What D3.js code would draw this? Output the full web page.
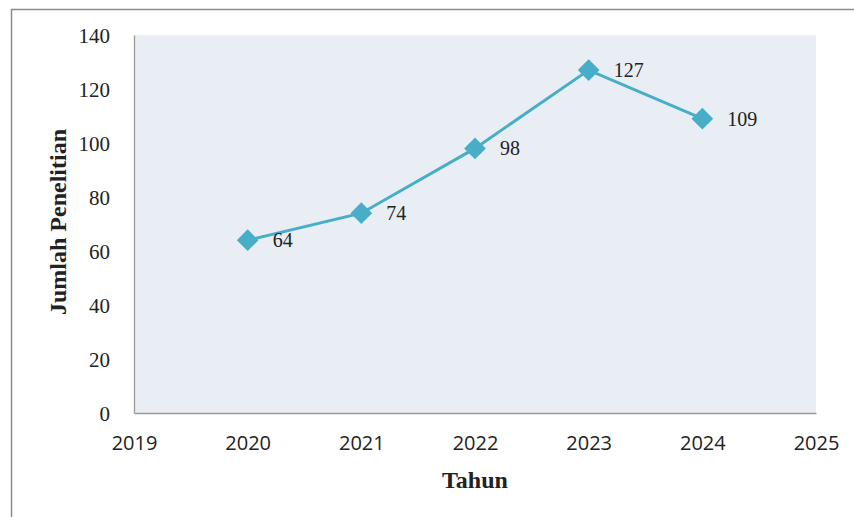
<!DOCTYPE html>
<html><head><meta charset="utf-8">
<script src="https://cdn.jsdelivr.net/npm/d3@7"></script>
<style>html,body{margin:0;padding:0;background:#fff;}svg{display:block;}</style>
</head><body>
<script>
const years = [2020, 2021, 2022, 2023, 2024];
const values = [64, 74, 98, 127, 109];
const xTicks = [2019, 2020, 2021, 2022, 2023, 2024, 2025];
const yTicks = [0, 20, 40, 60, 80, 100, 120, 140];
const xTitle = "Tahun";
const yTitle = "Jumlah Penelitian";

const W = 854, H = 517;
const svg = d3.select("body").append("svg").attr("width", W).attr("height", H);

// outer frame
svg.append("rect").attr("x", 11.5).attr("y", 9.5).attr("width", 900).attr("height", 600)
  .attr("fill", "none").attr("stroke", "#8a8a8a").attr("stroke-width", 1.5);

const L = 134, R = 816, T = 35, B = 413;
const x = d3.scaleLinear().domain([2019, 2025]).range([L, R]);
const y = d3.scaleLinear().domain([0, 140]).range([B, T]);

svg.append("rect").attr("x", L).attr("y", T).attr("width", R - L).attr("height", B - T)
  .attr("fill", "#e9eef4");

// axes
const yAxis = svg.append("g").attr("transform", `translate(${L},0)`)
  .call(d3.axisLeft(y).tickValues(yTicks).tickSize(0).tickPadding(24).tickFormat(d3.format("d")));
yAxis.select(".domain").attr("stroke", "#9a9a9a").attr("stroke-width", 1.3);
yAxis.selectAll("text").attr("font-family", "'Liberation Serif', 'DejaVu Serif', serif")
  .attr("font-size", 21).attr("fill", "#222").attr("dy", "0.35em");

const xAxis = svg.append("g").attr("transform", `translate(0,${B})`)
  .call(d3.axisBottom(x).tickValues(xTicks).tickSize(0).tickPadding(23).tickFormat(d3.format("d")));
xAxis.select(".domain").attr("stroke", "#9a9a9a").attr("stroke-width", 1.3);
xAxis.selectAll("text").attr("font-family", "'Open Sans', 'Liberation Sans', sans-serif")
  .attr("font-size", 20).attr("fill", "#222");

// line
const color = "#48aec8";
svg.append("path").datum(years.map((yr, i) => [yr, values[i]]))
  .attr("fill", "none").attr("stroke", color).attr("stroke-width", 3)
  .attr("d", d3.line().x(d => x(d[0])).y(d => y(d[1])));

const diamond = d3.symbol().type(d3.symbolDiamond2).size(300);
svg.selectAll(".pt").data(years).enter().append("path")
  .attr("transform", (d, i) => `translate(${x(d)},${y(values[i])})`)
  .attr("d", diamond).attr("fill", color);

svg.selectAll(".lbl").data(years).enter().append("text")
  .attr("x", d => x(d) + 25).attr("y", (d, i) => y(values[i]) + 7)
  .attr("font-family", "'Liberation Serif', 'DejaVu Serif', serif").attr("font-size", 20)
  .attr("fill", "#222").text((d, i) => values[i]);

svg.append("text").attr("x", 475).attr("y", 488).attr("text-anchor", "middle")
  .attr("font-family", "'Liberation Serif', 'DejaVu Serif', serif").attr("font-weight", "bold")
  .attr("font-size", 24).attr("fill", "#222").text(xTitle);

svg.append("text").attr("transform", `translate(66,222) rotate(-90)`).attr("text-anchor", "middle")
  .attr("font-family", "'Liberation Serif', 'DejaVu Serif', serif").attr("font-weight", "bold")
  .attr("font-size", 24).attr("fill", "#222").text(yTitle);
</script>
</body></html>
